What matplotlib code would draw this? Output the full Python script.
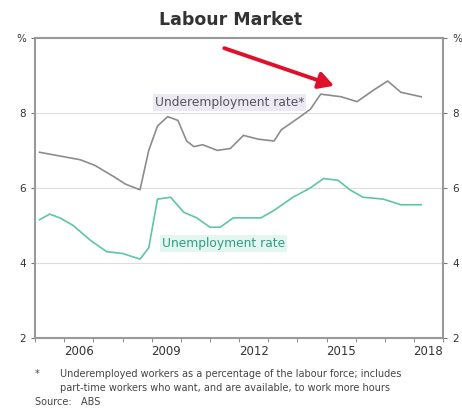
import matplotlib.pyplot as plt

# Underemployment rate (%)
under_t = [2005.15, 2005.85, 2006.55, 2007.05, 2007.7, 2008.1, 2008.6, 2008.9, 2009.2,
           2009.55, 2009.9, 2010.2, 2010.45, 2010.75, 2011.25, 2011.7, 2012.15, 2012.65,
           2013.2, 2013.45, 2014.1, 2014.45, 2014.8, 2015.5, 2016.05, 2016.6, 2017.1,
           2017.55, 2018.25]
under_v = [6.95, 6.85, 6.75, 6.6, 6.3, 6.1, 5.95, 7.0, 7.65,
           7.9, 7.8, 7.25, 7.1, 7.15, 7.0, 7.05, 7.4, 7.3,
           7.25, 7.55, 7.9, 8.1, 8.5, 8.43, 8.3, 8.6, 8.85,
           8.55, 8.43]

# Unemployment rate (%)
unemp_t = [2005.15, 2005.5, 2005.85, 2006.3, 2006.9, 2007.45, 2008.0, 2008.6, 2008.9,
           2009.2, 2009.65, 2010.1, 2010.55, 2011.0, 2011.35, 2011.8, 2012.75, 2013.2,
           2013.85, 2014.45, 2014.9, 2015.4, 2015.8, 2016.25, 2016.95, 2017.55, 2018.25]
unemp_v = [5.15, 5.3, 5.2, 5.0, 4.6, 4.3, 4.25, 4.1, 4.4,
           5.7, 5.75, 5.35, 5.2, 4.95, 4.95, 5.2, 5.2, 5.4,
           5.75, 6.0, 6.25, 6.2, 5.95, 5.75, 5.7, 5.55, 5.55]

year_labels = ['2006', '2009', '2012', '2015', '2018']
year_pos = [2006.5, 2009.5, 2012.5, 2015.5, 2018.5]
y_ticks = [2, 4, 6, 8, 10]
y_labels = ['2', '4', '6', '8', '%']

grey = '#8c8c8c'
teal = '#5cc6a6'

fig = plt.figure(figsize=(4.62, 4.12), dpi=100)
ax = fig.add_axes([0.076, 0.18, 0.883, 0.728])

ax.plot(under_t, under_v, color=grey, lw=1.2)
ax.plot(unemp_t, unemp_v, color=teal, lw=1.2)

ax.set_xlim(2005, 2019)
ax.set_ylim(2, 10)
ax.set_yticks(y_ticks)
ax.set_yticklabels(y_labels, fontsize=7.5, color='#333333')
ax.tick_params(axis='y', which='both', left=True, right=True, labelleft=True,
               labelright=True, length=3, color='#777777')
ax.set_xticks(range(2005, 2020), minor=True)
ax.set_xticks(year_pos)
ax.set_xticklabels(year_labels, fontsize=8.5, color='#333333')
ax.tick_params(axis='x', which='major', length=0, pad=5)
ax.tick_params(axis='x', which='minor', length=3, color='#777777')
for v in [4, 6, 8]:
    ax.axhline(v, color='#dddddd', lw=0.8, zorder=0)
for s in ax.spines.values():
    s.set_color('#999999')
    s.set_linewidth(1.5)

ax.text(2009.1, 8.18, 'Underemployment rate*', fontsize=8.8, color='#555555',
        bbox=dict(facecolor='#ece8f4', edgecolor='none', pad=1.5))
ax.text(2009.35, 4.42, 'Unemployment rate', fontsize=8.8, color='#2e9e80',
        bbox=dict(facecolor='#e4f6f0', edgecolor='none', pad=1.5))

ax.annotate('', xy=(2015.35, 8.7), xytext=(2011.4, 9.75),
            arrowprops=dict(arrowstyle='-|>,head_width=0.5,head_length=0.9',
                            color='#e0102a', lw=2.8))

fig.text(0.5, 0.94, 'Labour Market', ha='center', fontsize=12.5,
         fontweight='bold', color='#333333')
fig.text(0.075, 0.085, '*', fontsize=7, color='#444444')
fig.text(0.13, 0.085, 'Underemployed workers as a percentage of the labour force; includes',
         fontsize=7, color='#444444')
fig.text(0.13, 0.052, 'part-time workers who want, and are available, to work more hours',
         fontsize=7, color='#444444')
fig.text(0.075, 0.016, 'Source:   ABS', fontsize=7, color='#444444')

fig.savefig('out.png', dpi=100)
